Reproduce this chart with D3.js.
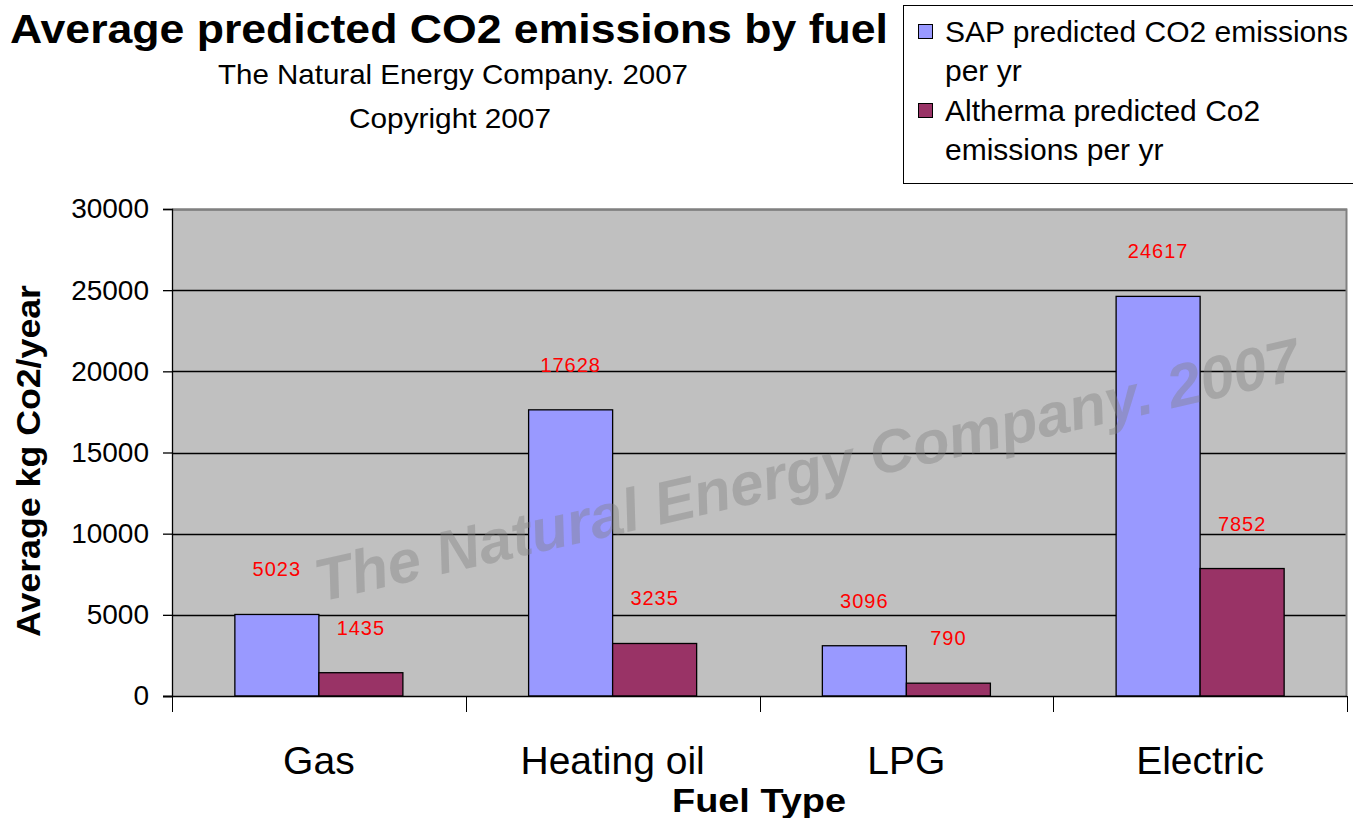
<!DOCTYPE html>
<html>
<head>
<meta charset="utf-8">
<script src="https://cdn.jsdelivr.net/npm/d3@7"></script>
<style>
  body { margin: 0; background: #fff; }
  svg text { font-family: "Liberation Sans", Arial, sans-serif; }
</style>
</head>
<body>
<div id="chart"></div>
<script>
// Data
var fuels = ["Gas", "Heating oil", "LPG", "Electric"];
var sapValues = [5023, 17628, 3096, 24617];
var althermaValues = [1435, 3235, 790, 7852];
var yTicks = [0, 5000, 10000, 15000, 20000, 25000, 30000];

var svgWidth = 1353;
var svgHeight = 818;

// plot area box
var margin = { top: 209, right: 6, bottom: 122, left: 172 };
var chartWidth = svgWidth - margin.left - margin.right;
var chartHeight = svgHeight - margin.top - margin.bottom;

var colors = ["#9999FF", "#993366"];

var svg = d3.select("#chart")
  .append("svg")
  .attr("width", svgWidth)
  .attr("height", svgHeight);

var chartGroup = svg.append("g")
  .attr("transform", `translate(${margin.left}, ${margin.top})`);

var xScale = d3.scaleBand()
  .domain(fuels)
  .range([0, chartWidth])
  .paddingInner(0)
  .paddingOuter(0);

var yScale = d3.scaleLinear()
  .domain([0, 30000])
  .range([chartHeight, 0]);

// groups inside each band: 168 of 294 px
var groupWidth = xScale.bandwidth() * 0.572;
var xSub = d3.scaleBand()
  .domain([0, 1])
  .range([0, groupWidth]);

// plot background
chartGroup.append("rect")
  .attr("width", chartWidth)
  .attr("height", chartHeight)
  .attr("fill", "#C0C0C0");

// gridlines
chartGroup.selectAll(".grid")
  .data(yTicks.slice(1))
  .enter()
  .append("line")
  .attr("x1", 0)
  .attr("x2", chartWidth)
  .attr("y1", d => Math.round(yScale(d)) + 0.5)
  .attr("y2", d => Math.round(yScale(d)) + 0.5)
  .attr("stroke", "#000")
  .attr("stroke-width", 1.3);

// plot border top / right
chartGroup.append("path")
  .attr("d", `M0,0.5 H${chartWidth - 0.5} V${chartHeight}`)
  .attr("fill", "none")
  .attr("stroke", "#808080")
  .attr("stroke-width", 2);

// bars
var barData = [];
fuels.forEach(function(f, i) {
  barData.push({ fuel: f, s: 0, value: sapValues[i] });
  barData.push({ fuel: f, s: 1, value: althermaValues[i] });
});

var offset = (xScale.bandwidth() - groupWidth) / 2;

chartGroup.selectAll(".bar")
  .data(barData)
  .enter()
  .append("rect")
  .attr("x", d => xScale(d.fuel) + offset + xSub(d.s))
  .attr("y", d => yScale(d.value))
  .attr("width", xSub.bandwidth())
  .attr("height", d => chartHeight - yScale(d.value))
  .attr("fill", d => colors[d.s])
  .attr("stroke", "#000")
  .attr("stroke-width", 1.3);

// watermark, semi transparent over the bars
chartGroup.append("text")
  .attr("transform", `translate(${320 - margin.left}, ${602 - margin.top}) rotate(-12.8)`)
  .attr("font-size", "60px")
  .attr("font-weight", "bold")
  .attr("font-style", "italic")
  .attr("fill", "#808080")
  .attr("fill-opacity", 0.4)
  .attr("textLength", 1008)
  .attr("lengthAdjust", "spacingAndGlyphs")
  .text("The Natural Energy Company. 2007");

// value labels
chartGroup.selectAll(".label")
  .data(barData)
  .enter()
  .append("text")
  .attr("x", d => xScale(d.fuel) + offset + xSub(d.s) + xSub.bandwidth() / 2)
  .attr("y", d => yScale(d.value) - 38)
  .attr("text-anchor", "middle")
  .attr("font-size", "20px")
  .attr("letter-spacing", "1px")
  .attr("fill", "#FF0000")
  .text(d => d.value);

// left axis
var leftAxis = d3.axisLeft(yScale)
  .tickValues(yTicks)
  .tickSize(9)
  .tickPadding(14)
  .tickFormat(d3.format("d"));

var yAxisG = chartGroup.append("g")
  .call(leftAxis);
yAxisG.select(".domain").attr("stroke", "#000").attr("stroke-width", 1.3);
yAxisG.selectAll(".tick line").attr("stroke-width", 1.3);
yAxisG.selectAll("text")
  .attr("font-size", "28px")
  .attr("fill", "#000")
  .style("font-family", "Liberation Sans, Arial, sans-serif");

// bottom axis: ticks between categories
var bottomG = chartGroup.append("g")
  .attr("transform", `translate(0, ${chartHeight})`);
bottomG.append("line")
  .attr("x1", -9)
  .attr("x2", chartWidth)
  .attr("y1", 0.5)
  .attr("y2", 0.5)
  .attr("stroke", "#000")
  .attr("stroke-width", 1.3);
var boundaries = fuels.map(f => xScale(f));
boundaries.push(chartWidth);
bottomG.selectAll(".xtick")
  .data(boundaries)
  .enter()
  .append("line")
  .attr("x1", d => Math.round(d) + 0.5)
  .attr("x2", d => Math.round(d) + 0.5)
  .attr("y1", 0)
  .attr("y2", 16)
  .attr("stroke", "#000")
  .attr("stroke-width", 1);

bottomG.selectAll(".xlabel")
  .data(fuels)
  .enter()
  .append("text")
  .attr("x", d => xScale(d) + xScale.bandwidth() / 2)
  .attr("y", 78)
  .attr("text-anchor", "middle")
  .attr("font-size", "39px")
  .attr("fill", "#000")
  .text(d => d);

// axis titles
svg.append("text")
  .attr("x", 759)
  .attr("y", 812)
  .attr("text-anchor", "middle")
  .attr("font-size", "34px")
  .attr("font-weight", "bold")
  .attr("textLength", 174)
  .attr("lengthAdjust", "spacingAndGlyphs")
  .text("Fuel Type");

svg.append("text")
  .attr("transform", "rotate(-90)")
  .attr("x", -461)
  .attr("y", 40)
  .attr("text-anchor", "middle")
  .attr("font-size", "33px")
  .attr("font-weight", "bold")
  .attr("textLength", 352)
  .attr("lengthAdjust", "spacingAndGlyphs")
  .text("Average kg Co2/year");

// titles
svg.append("text")
  .attr("x", 449)
  .attr("y", 43)
  .attr("text-anchor", "middle")
  .attr("font-size", "41px")
  .attr("font-weight", "bold")
  .attr("textLength", 878)
  .attr("lengthAdjust", "spacingAndGlyphs")
  .text("Average predicted CO2 emissions by fuel");

svg.append("text")
  .attr("x", 453)
  .attr("y", 84)
  .attr("text-anchor", "middle")
  .attr("font-size", "28px")
  .attr("textLength", 470)
  .attr("lengthAdjust", "spacingAndGlyphs")
  .text("The Natural Energy Company. 2007");

svg.append("text")
  .attr("x", 450)
  .attr("y", 128)
  .attr("text-anchor", "middle")
  .attr("font-size", "28px")
  .attr("textLength", 202)
  .attr("lengthAdjust", "spacingAndGlyphs")
  .text("Copyright 2007");

// legend
var legend = svg.append("g");
legend.append("rect")
  .attr("x", 903.5)
  .attr("y", 5.5)
  .attr("width", 460)
  .attr("height", 178)
  .attr("fill", "#fff")
  .attr("stroke", "#000")
  .attr("stroke-width", 1);

var legendLines = [
  ["SAP predicted CO2 emissions", "per yr"],
  ["Altherma predicted Co2", "emissions per yr"]
];
legendLines.forEach(function(lines, i) {
  var top = 24 + i * 79;
  legend.append("rect")
    .attr("x", 918.5)
    .attr("y", top + 0.5)
    .attr("width", 14)
    .attr("height", 14)
    .attr("fill", colors[i])
    .attr("stroke", "#000")
    .attr("stroke-width", 1);
  lines.forEach(function(t, j) {
    legend.append("text")
      .attr("x", 945)
      .attr("y", top + 18 + j * 39)
      .attr("font-size", "30px")
      .text(t);
  });
});
</script>
</body>
</html>
